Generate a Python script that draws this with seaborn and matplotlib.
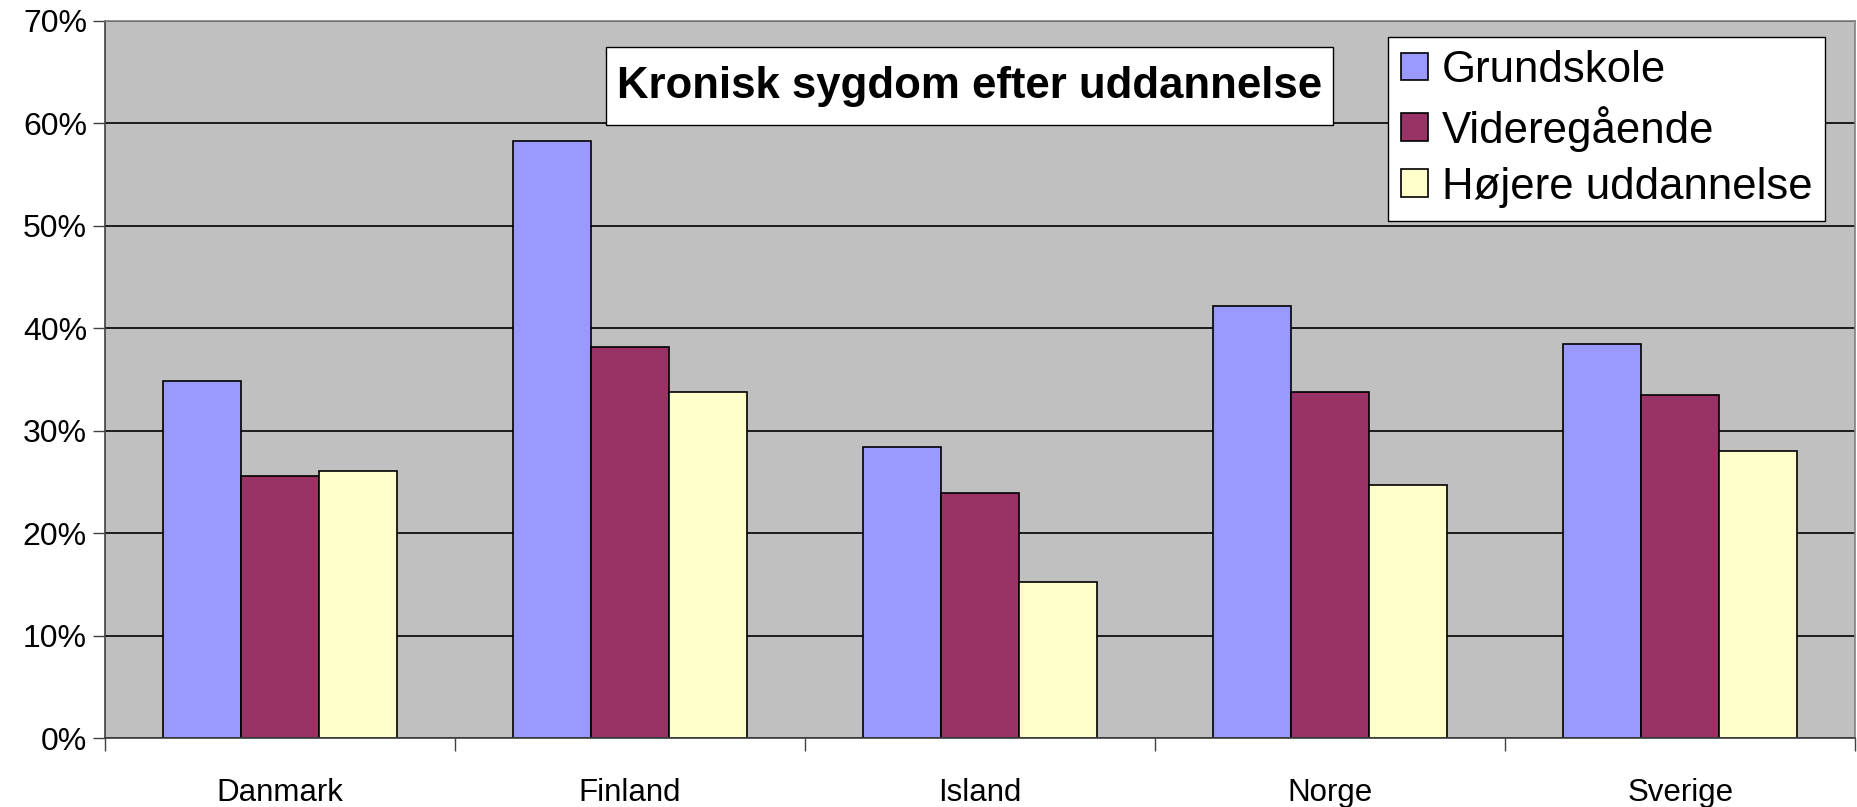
import numpy as np
import pandas as pd
import seaborn as sns
import matplotlib
matplotlib.use('Agg')
import matplotlib.pyplot as plt
from matplotlib.ticker import PercentFormatter

# data (andel i procent)
lande = ['Danmark', 'Finland', 'Island', 'Norge', 'Sverige']
grundskole = [34.9, 58.3, 28.4, 42.2, 38.5]
videregaaende = [25.6, 38.2, 23.9, 33.8, 33.5]
hoejere = [26.1, 33.8, 15.2, 24.7, 28.0]
grupper = ['Grundskole', 'Videregående', 'Højere uddannelse']
farver = ['#9999FF', '#993366', '#FFFFCC']

rows = []
for navn, vals in zip(grupper, [grundskole, videregaaende, hoejere]):
    for land, v in zip(lande, vals):
        rows.append({'land': land, 'uddannelse': navn, 'andel': v})
df = pd.DataFrame(rows)

sns.set_style('white')
plt.rcParams['font.family'] = ['Liberation Sans', 'DejaVu Sans']
plt.rcParams['text.color'] = 'black'

fig = plt.figure(figsize=(18.58, 8.07), dpi=100)
ax = fig.add_axes([0.0565, 0.0855, 0.942, 0.8885])
ax.set_facecolor('#C0C0C0')

sns.barplot(data=df, x='land', y='andel', hue='uddannelse', palette=farver,
            saturation=1, edgecolor='black', linewidth=1.2, width=0.67, gap=0, ax=ax)

ax.set_ylim(0, 70)
ax.set_xlim(-0.5, 4.5)
ax.set_yticks(np.arange(0, 71, 10))
ax.yaxis.set_major_formatter(PercentFormatter(decimals=0))
ax.set_axisbelow(True)
ax.yaxis.grid(True, color='black', linewidth=1.2)
ax.set_xlabel('')
ax.set_ylabel('')

# ticks between categories
ax.set_xticks(np.arange(-0.5, 5, 1), minor=True)
ax.tick_params(axis='x', which='major', length=0, pad=29, labelsize=22.5, labelcolor='black')
ax.tick_params(axis='x', which='minor', length=9, width=1, color='#404040', bottom=True)
ax.tick_params(axis='y', length=9, width=1, color='#404040', left=True, labelsize=23, pad=4,
               labelcolor='black')

for s in ['left', 'bottom']:
    ax.spines[s].set_color('#404040')
    ax.spines[s].set_linewidth(1.2)
for s in ['top', 'right']:
    ax.spines[s].set_color('#808080')
    ax.spines[s].set_linewidth(1.2)

ax.text(0.494, 0.909, 'Kronisk sygdom efter uddannelse', transform=ax.transAxes,
        ha='center', va='center', fontsize=31.5, fontweight='bold', color='black',
        bbox=dict(boxstyle='square,pad=0.25', mutation_aspect=1.7,
                  facecolor='white', edgecolor='black', linewidth=1))

leg = ax.legend(loc='upper right', bbox_to_anchor=(0.983, 0.978), borderaxespad=0,
                fontsize=31.5, frameon=True, fancybox=False, edgecolor='black',
                handlelength=0.6, handleheight=0.6, handletextpad=0.32,
                labelspacing=0.34, borderpad=0.3)
leg.get_frame().set_linewidth(1)
leg.get_frame().set_facecolor('white')
leg.get_frame().set_alpha(1)
for t in leg.get_texts():
    t.set_color('black')

fig.savefig('out.png', dpi=100)
